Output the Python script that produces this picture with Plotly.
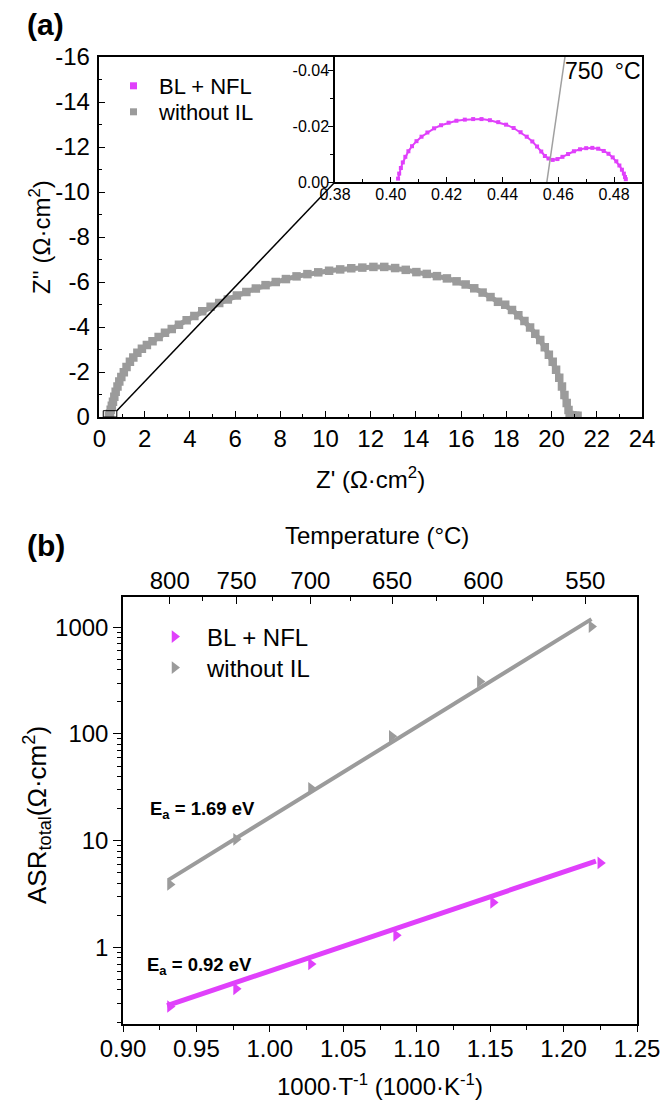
import math
import plotly.graph_objects as go

W, H = 664, 1110
FONT = "Liberation Sans, Arial, sans-serif"
MAG = "#E040FB"
GRAY = "#9B9B9B"

# ---------------- Panel (a) data: Nyquist ----------------
wo_zr = [0.42, 0.47, 0.50, 0.55, 0.60, 0.66, 0.72, 0.80, 0.88, 0.97, 1.08, 1.20, 1.35, 1.50,
         1.68, 1.88, 2.10, 2.35, 2.62, 2.90, 3.20, 3.52, 3.86, 4.20, 4.55, 4.92, 5.30, 5.68,
         6.08, 6.50, 6.92, 7.35, 7.80, 8.25, 8.72, 9.20, 9.68, 10.16, 10.65, 11.14, 11.63,
         12.12, 12.60, 13.08, 13.55, 14.02, 14.48, 14.93, 15.37, 15.80, 16.20, 16.58, 16.95,
         17.30, 17.63, 17.95, 18.25, 18.53, 18.80, 19.05, 19.28, 19.50, 19.70, 19.88, 20.05,
         20.20, 20.34, 20.46, 20.57, 20.67, 20.75, 20.80, 20.92, 21.05, 21.15]
wo_zi = [-0.05, -0.16, -0.32, -0.50, -0.68, -0.90, -1.12, -1.36, -1.58, -1.78, -1.99, -2.22,
         -2.45, -2.64, -2.85, -3.03, -3.20, -3.37, -3.55, -3.74, -3.91, -4.10, -4.30, -4.49,
         -4.70, -4.90, -5.07, -5.22, -5.40, -5.56, -5.71, -5.86, -6.00, -6.13, -6.25, -6.35,
         -6.43, -6.50, -6.56, -6.61, -6.64, -6.67, -6.67, -6.62, -6.54, -6.44, -6.36, -6.26,
         -6.16, -6.03, -5.89, -5.72, -5.53, -5.33, -5.12, -4.99, -4.76, -4.52, -4.27, -3.98,
         -3.70, -3.42, -3.10, -2.77, -2.45, -2.10, -1.74, -1.35, -0.98, -0.62, -0.31, -0.09,
         -0.08, -0.06, -0.05]

bl_zr = [0.4026, 0.4030, 0.4036, 0.4043, 0.4052, 0.4063, 0.4076, 0.4092, 0.4110, 0.4131,
         0.4155, 0.4180, 0.4207, 0.4235, 0.4265, 0.4295, 0.4325, 0.4355, 0.4385, 0.4413,
         0.4440, 0.4465, 0.4487, 0.4507, 0.4524, 0.4539, 0.4552, 0.4565, 0.4580, 0.4597,
         0.4615, 0.4635, 0.4656, 0.4678, 0.4700, 0.4722, 0.4743, 0.4763, 0.4780, 0.4795,
         0.4808, 0.4819, 0.4828, 0.4835, 0.4839, 0.4842]
bl_zi = [-0.0012, -0.0030, -0.0050, -0.0070, -0.0090, -0.0110, -0.0128, -0.0146, -0.0162,
         -0.0177, -0.0192, -0.0203, -0.0212, -0.0219, -0.0223, -0.0225, -0.0225, -0.0221,
         -0.0214, -0.0205, -0.0193, -0.0178, -0.0162, -0.0145, -0.0127, -0.0109, -0.0093,
         -0.0084, -0.0079, -0.0082, -0.0090, -0.0100, -0.0110, -0.0117, -0.0121, -0.0122,
         -0.0119, -0.0111, -0.0101, -0.0088, -0.0074, -0.0059, -0.0044, -0.0030, -0.0018,
         -0.0010]

# grey marker line in the inset
inset_line_x = [0.4559, 0.4624]
inset_line_y = [0.0, -0.0447]

# zoom box drawn in the main panel [x0, x1, y0, y1]
zoom_box = [0.17, 0.77, 0.0, -0.28]

a_xticks = list(range(0, 25, 2))
a_yticks = list(range(0, -17, -2))
inset_xticks = [0.38, 0.40, 0.42, 0.44, 0.46, 0.48]
inset_yticks = [0.0, -0.02, -0.04]

# ---------------- Panel (b) data: Arrhenius ----------------
temps_c = [800, 750, 700, 650, 600, 550]
minor_temps_c = [775, 725, 675, 625, 575]
wo_x = [0.932, 0.977, 1.028, 1.083, 1.143, 1.219]
wo_y = [3.9, 10.3, 31, 95, 310, 1013]
bl_x = [0.932, 0.977, 1.028, 1.086, 1.152, 1.225]
bl_y = [0.28, 0.41, 0.70, 1.30, 2.64, 6.2]
fit_wo_x = [0.931, 1.219]
fit_wo_y = [4.3, 1190]
fit_bl_x = [0.930, 1.222]
fit_bl_y = [0.285, 6.45]
b_xticks = [0.90, 0.95, 1.00, 1.05, 1.10, 1.15, 1.20, 1.25]
b_yticks = [1, 10, 100, 1000]


def px(x):
    return x / W


def py(y):
    return 1 - y / H


# layout geometry (pixels)
A_L, A_R, A_T, A_B = 99.4, 642, 57, 417
I_L, I_B = 335, 182
B_L, B_R, B_T, B_B = 123, 637, 597, 1024
B_YR = [math.log10(0.192), math.log10(1918)]
B_XR = [0.90, 1.25]

fig = go.Figure()

# Panel (a) main
fig.add_trace(go.Scatter(x=bl_zr, y=bl_zi, mode="markers", name="BL + NFL",
                         marker=dict(symbol="square", size=7, color=MAG),
                         xaxis="x", yaxis="y", legend="legend"))
fig.add_trace(go.Scatter(x=wo_zr, y=wo_zi, mode="lines+markers", showlegend=False,
                         line=dict(color=GRAY, width=5),
                         marker=dict(symbol="square", size=8.5, color=GRAY),
                         xaxis="x", yaxis="y"))
# legend entry (marker only) for the grey Nyquist series
fig.add_trace(go.Scatter(x=[None], y=[None], mode="markers", name="without IL",
                         marker=dict(symbol="square", size=7, color=GRAY),
                         xaxis="x", yaxis="y", legend="legend3"))
# inset
fig.add_trace(go.Scatter(x=bl_zr, y=bl_zi, mode="lines+markers", showlegend=False,
                         line=dict(color=MAG, width=2),
                         marker=dict(symbol="square", size=4, color=MAG),
                         xaxis="x2", yaxis="y2"))
fig.add_trace(go.Scatter(x=inset_line_x, y=inset_line_y, mode="lines", showlegend=False,
                         line=dict(color="#A0A0A0", width=1.5), xaxis="x2", yaxis="y2"))

# Panel (b)
fig.add_trace(go.Scatter(x=fit_wo_x, y=fit_wo_y, mode="lines", showlegend=False,
                         line=dict(color=GRAY, width=4), xaxis="x3", yaxis="y3"))
fig.add_trace(go.Scatter(x=fit_bl_x, y=fit_bl_y, mode="lines", showlegend=False,
                         line=dict(color=MAG, width=5), xaxis="x3", yaxis="y3"))
fig.add_trace(go.Scatter(x=bl_x, y=bl_y, mode="markers", name="BL + NFL",
                         marker=dict(symbol="triangle-right", size=11, color=MAG),
                         xaxis="x3", yaxis="y3", legend="legend2"))
fig.add_trace(go.Scatter(x=wo_x, y=wo_y, mode="markers", name="without IL",
                         marker=dict(symbol="triangle-right", size=11, color=GRAY),
                         xaxis="x3", yaxis="y3", legend="legend4"))
# invisible trace so the top temperature axis is drawn
fig.add_trace(go.Scatter(x=wo_x, y=wo_y, mode="markers", showlegend=False,
                         marker=dict(size=1, opacity=0), hoverinfo="skip",
                         xaxis="x4", yaxis="y3"))

axis_common = dict(showgrid=False, zeroline=False, showline=True, linecolor="black",
                   linewidth=1.5, tickcolor="black", tickwidth=1.2, automargin=False)

def fmt(v, d):
    return f"{v:.{d}f}"

b_yminor = [d * 10 ** e for e in range(-1, 4) for d in range(2, 10)
            if B_YR[0] <= math.log10(d * 10 ** e) <= B_YR[1]]
top_vals = [1000 / (t + 273.15) for t in temps_c]
top_minor = [1000 / (t + 273.15) for t in minor_temps_c]

def leg(x, y, size, iw):
    return dict(x=px(x), y=py(y), xanchor="left", yanchor="middle",
                bgcolor="rgba(0,0,0,0)", font=dict(size=size), itemwidth=iw)

fig.update_layout(
    width=W, height=H, margin=dict(l=0, r=0, t=0, b=0, pad=0, autoexpand=False),
    paper_bgcolor="white", plot_bgcolor="white",
    font=dict(family=FONT, color="black", size=22),
    xaxis=dict(**axis_common, domain=[px(A_L), px(A_R)], range=[0, 24], anchor="y",
               mirror=True, ticks="inside", ticklen=6, tickmode="array",
               tickvals=a_xticks, ticktext=[str(v) for v in a_xticks],
               tickfont=dict(size=24), ticklabelstandoff=-1,
               minor=dict(tickmode="array", tickvals=list(range(1, 24, 2)), ticks="inside",
                          ticklen=3, tickcolor="black")),
    yaxis=dict(**axis_common, domain=[py(A_B), py(A_T)], range=[0, -16], anchor="x",
               mirror=True, ticks="inside", ticklen=6, tickmode="array",
               tickvals=a_yticks, ticktext=[str(v) for v in a_yticks],
               tickfont=dict(size=24), ticklabelstandoff=3,
               minor=dict(tickmode="array", tickvals=list(range(-1, -16, -2)), ticks="inside",
                          ticklen=3, tickcolor="black")),
    xaxis2=dict(**axis_common, domain=[px(I_L), px(A_R)], range=[0.38, 0.49], anchor="y2",
                mirror=True, ticks="inside", ticklen=5, tickmode="array",
                tickvals=inset_xticks, ticktext=[fmt(v, 2) for v in inset_xticks],
                tickfont=dict(size=16), ticklabelstandoff=-3,
                minor=dict(tickmode="array", tickvals=[0.39, 0.41, 0.43, 0.45, 0.47],
                           ticks="inside", ticklen=3, tickcolor="black")),
    yaxis2=dict(**axis_common, domain=[py(I_B), py(A_T)], range=[0, -0.0447], anchor="x2",
                mirror=True, ticks="outside", ticklen=5, tickmode="array",
                tickvals=inset_yticks, ticktext=["0.00", "-0.02", "-0.04"],
                tickfont=dict(size=16), ticklabelstandoff=-4,
                minor=dict(tickmode="array", tickvals=[-0.01, -0.03], ticks="outside",
                           ticklen=3, tickcolor="black")),
    xaxis3=dict(**axis_common, domain=[px(B_L), px(B_R)], range=B_XR, anchor="y3",
                mirror=True, ticks="outside", ticklen=6, tickmode="array",
                tickvals=b_xticks, ticktext=[fmt(v, 2) for v in b_xticks],
                tickfont=dict(size=24), ticklabelstandoff=-4,
                minor=dict(tickmode="array",
                           tickvals=[0.925, 0.975, 1.025, 1.075, 1.125, 1.175, 1.225],
                           ticks="outside", ticklen=4, tickcolor="black")),
    yaxis3=dict(**axis_common, domain=[py(B_B), py(B_T)], type="log", range=B_YR,
                anchor="x3", mirror=True, ticks="outside", ticklen=8, tickmode="array",
                tickvals=b_yticks, ticktext=[str(v) for v in b_yticks],
                tickfont=dict(size=24),
                minor=dict(tickmode="array", tickvals=b_yminor, ticks="outside",
                           ticklen=4, tickcolor="black")),
    xaxis4=dict(**axis_common, overlaying="x3", anchor="y3", side="top", range=B_XR,
                ticks="inside", ticklen=7, tickmode="array", tickvals=top_vals,
                ticktext=[str(t) for t in temps_c], tickfont=dict(size=24),
                ticklabelstandoff=-3,
                minor=dict(tickmode="array", tickvals=top_minor, ticks="inside",
                           ticklen=4, tickcolor="black")),
    legend=leg(108, 86, 22, 41),
    legend3=leg(108, 112, 22, 41),
    legend2=leg(142, 637, 24, 55),
    legend4=leg(142, 668, 24, 55),
)

# zoom box and connector in panel (a)
corner_x = 24 * (I_L - A_L) / (A_R - A_L)
corner_y = -16 * (A_B - I_B) / (A_B - A_T)
fig.add_shape(type="rect", xref="x", yref="y", x0=zoom_box[0], x1=zoom_box[1],
              y0=zoom_box[2], y1=zoom_box[3], line=dict(color="black", width=1))
fig.add_shape(type="line", xref="x", yref="y", x0=zoom_box[1], y0=zoom_box[3],
              x1=corner_x, y1=corner_y, line=dict(color="black", width=1.5))

ann = [
    dict(text="<b>(a)</b>", x=px(25), y=py(25), xanchor="left", yanchor="middle",
         font=dict(size=30)),
    dict(text="<b>(b)</b>", x=px(25), y=py(545), xanchor="left", yanchor="middle",
         font=dict(size=30)),
    dict(text="750\u2002°C", x=px(643), y=py(71), xanchor="right", yanchor="middle",
         font=dict(size=23)),
    dict(text="Z' (Ω·cm<sup>2</sup>)", x=px(370), y=py(478), xanchor="center",
         yanchor="middle", font=dict(size=24)),
    dict(text="Z'' (Ω·cm<sup>2</sup>)", x=px(40), y=py(237), xanchor="center",
         yanchor="middle", textangle=-90, font=dict(size=24)),
    dict(text="Temperature (°C)", x=px(377), y=py(535), xanchor="center",
         yanchor="middle", font=dict(size=24)),
    dict(text="1000·T<sup>-1</sup> (1000·K<sup>-1</sup>)", x=px(380), y=py(1085),
         xanchor="center", yanchor="middle", font=dict(size=24)),
    dict(text="ASR<sub>total</sub>(Ω·cm<sup>2</sup>)", x=px(37), y=py(815),
         xanchor="center", yanchor="middle", textangle=-90, font=dict(size=26)),
    dict(text="<b>E<sub>a</sub> = 1.69 eV</b>", x=px(148), y=py(810), xanchor="left",
         yanchor="middle", font=dict(size=18.5)),
    dict(text="<b>E<sub>a</sub> = 0.92 eV</b>", x=px(145), y=py(966), xanchor="left",
         yanchor="middle", font=dict(size=18.5)),
]
for a in ann:
    a.update(xref="paper", yref="paper", showarrow=False)
    fig.add_annotation(**a)

fig.write_html("out.html", config={"displayModeBar": False},
               post_script="document.body.style.margin='0';"
                           "document.body.style.overflow='hidden';")
